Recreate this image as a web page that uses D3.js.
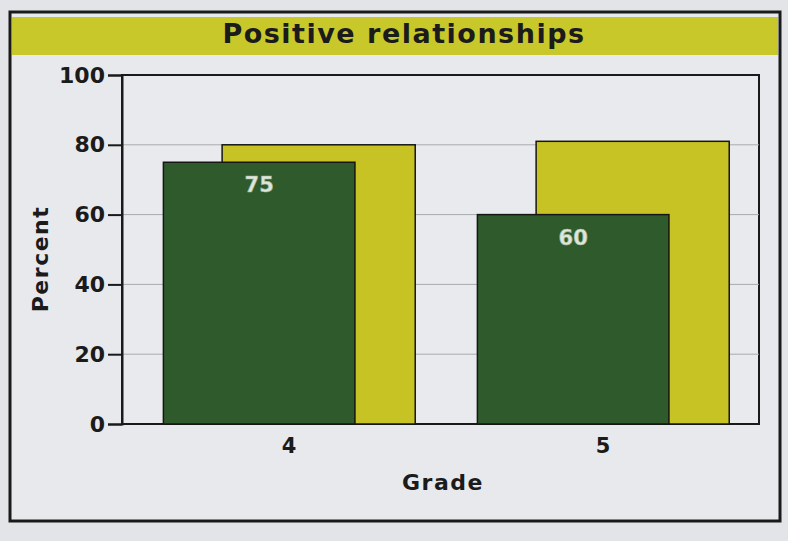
<!DOCTYPE html>
<html><head><meta charset="utf-8">
<script src="https://cdn.jsdelivr.net/npm/d3@7"></script>
<style>
html,body{margin:0;padding:0;background:#e3e4e7;}
svg{display:block;font-family:"DejaVu Sans",Arial,sans-serif;}
</style></head>
<body>
<svg id="c" width="788" height="541"></svg>
<script>
const title = "Positive relationships";
const grades = ["4", "5"];
const seriesA = [75, 60];   // dark green (labelled)
const seriesB = [80, 81];   // yellow comparison
const yTicks = [0, 20, 40, 60, 80, 100];
const yLabel = "Percent";
const xLabel = "Grade";

const FONT = "DejaVu Sans, Arial, sans-serif";
const svg = d3.select("#c");
const W = 788, H = 541;

svg.append("rect").attr("width", W).attr("height", H).attr("fill", "#e3e4e7");
// outer frame
svg.append("rect").attr("x", 10).attr("y", 12).attr("width", 770).attr("height", 509)
  .attr("fill", "#e8e9ec").attr("stroke", "#1a1a1a").attr("stroke-width", 3);
// title band
svg.append("rect").attr("x", 12).attr("y", 17).attr("width", 766).attr("height", 38)
  .attr("fill", "#c8c82a");
svg.append("text").attr("x", 404).attr("y", 43).attr("text-anchor", "middle")
  .attr("font-size", 27).attr("font-weight", "bold").attr("fill", "#1b1b1b")
  .attr("letter-spacing", "1.5").text(title);

const plot = {left: 122, right: 759, top: 75, bottom: 424};
const y = d3.scaleLinear().domain([0, 100]).range([plot.bottom, plot.top]);
const x = d3.scaleBand().domain(grades).range([132, 760]).padding(0);
const bw = x.bandwidth();

// plot area frame
svg.append("rect").attr("x", plot.left).attr("y", plot.top)
  .attr("width", plot.right - plot.left).attr("height", plot.bottom - plot.top)
  .attr("fill", "#e9eaed").attr("stroke", "#1a1a1a").attr("stroke-width", 2);

// gridlines
svg.append("g").selectAll("line").data(yTicks.filter(d => d > 0 && d < 100)).join("line")
  .attr("x1", plot.left).attr("x2", plot.right)
  .attr("y1", d => y(d)).attr("y2", d => y(d))
  .attr("stroke", "#a9abaf").attr("stroke-width", 1);

// y axis
const yAxis = d3.axisLeft(y).tickValues(yTicks).tickSize(14).tickPadding(3);
const gy = svg.append("g").attr("transform", `translate(${plot.left},0)`).call(yAxis);
gy.select(".domain").attr("stroke", "#1a1a1a").attr("stroke-width", 2);
gy.selectAll(".tick line").attr("stroke", "#1a1a1a").attr("stroke-width", 2);
gy.selectAll(".tick text").attr("font-size", 22).attr("font-weight", "bold")
  .attr("fill", "#1b1b1b").attr("font-family", FONT);

// bars
const greenOff = -0.40 * bw, greenW = 0.61 * bw;
const yellowOff = -0.213 * bw, yellowW = 0.615 * bw;
const gB = svg.append("g");
gB.selectAll("rect").data(grades).join("rect")
  .attr("x", (d) => x(d) + bw / 2 + yellowOff)
  .attr("width", yellowW)
  .attr("y", (d, i) => y(seriesB[i]))
  .attr("height", (d, i) => y(0) - y(seriesB[i]))
  .attr("fill", "#c7c325").attr("stroke", "#161616").attr("stroke-width", 1.5);
const gA = svg.append("g");
gA.selectAll("rect").data(grades).join("rect")
  .attr("x", (d) => x(d) + bw / 2 + greenOff)
  .attr("width", greenW)
  .attr("y", (d, i) => y(seriesA[i]))
  .attr("height", (d, i) => y(0) - y(seriesA[i]))
  .attr("fill", "#2f5a2c").attr("stroke", "#161616").attr("stroke-width", 1.5);
gA.selectAll("text").data(grades).join("text")
  .attr("x", (d) => x(d) + bw / 2 + greenOff + greenW / 2)
  .attr("y", (d, i) => y(seriesA[i]) + 30)
  .attr("text-anchor", "middle").attr("font-size", 21).attr("font-weight", "bold")
  .attr("fill", "#dfe6dc").attr("stroke", "#9fb59a").attr("stroke-width", 0.6)
  .text((d, i) => seriesA[i]);

// x axis labels
const xAxis = d3.axisBottom(x).tickSize(0).tickPadding(14);
const gx = svg.append("g").attr("transform", `translate(0,${plot.bottom})`).call(xAxis);
gx.select(".domain").remove();
gx.selectAll(".tick text").attr("font-size", 21).attr("font-weight", "bold")
  .attr("fill", "#1b1b1b").attr("font-family", FONT);

svg.append("text").attr("x", 443).attr("y", 490).attr("text-anchor", "middle")
  .attr("font-size", 22).attr("font-weight", "bold").attr("fill", "#1b1b1b")
  .attr("letter-spacing", "1.5").text(xLabel);
svg.append("text").attr("transform", "translate(48,259) rotate(-90)")
  .attr("text-anchor", "middle").attr("font-size", 22).attr("font-weight", "bold")
  .attr("fill", "#1b1b1b").attr("letter-spacing", "1.5").text(yLabel);
</script>
</body></html>
